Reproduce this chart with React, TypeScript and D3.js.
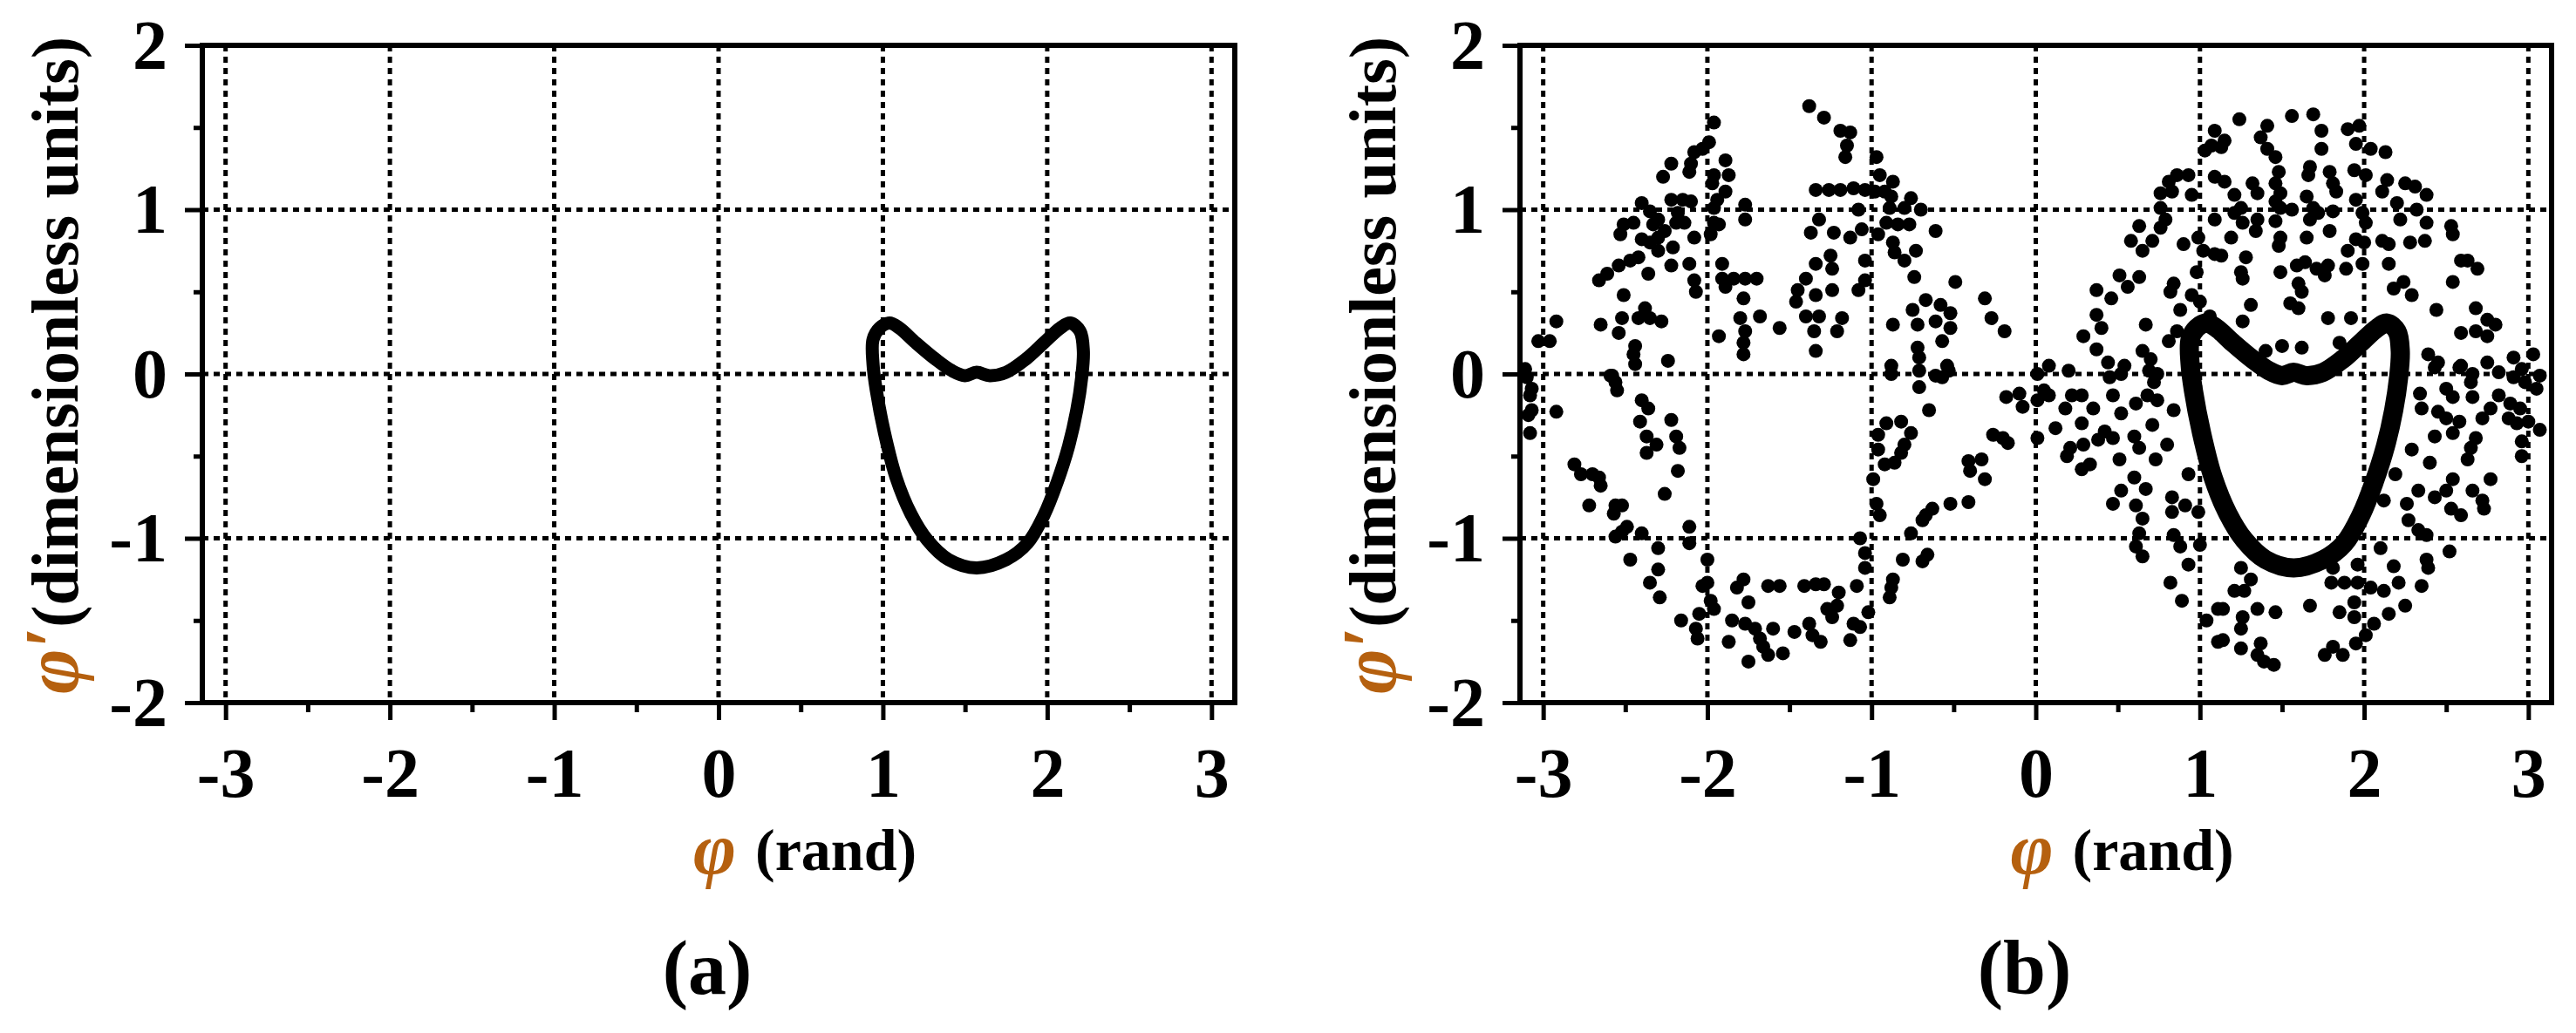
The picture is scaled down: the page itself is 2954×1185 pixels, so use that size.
import React, { useRef, useEffect } from 'react';
import * as d3 from 'd3';

const xTickValues = [-3, -2, -1, 0, 1, 2, 3];
const xMinorValues = [-2.5, -1.5, -0.5, 0.5, 1.5, 2.5];
const yTickValues = [-2, -1, 0, 1, 2];
const yMinorValues = [-1.5, -0.5, 0.5, 1.5];
const xGridValues = [-3, -2, -1, 0, 1, 2, 3];
const yGridValues = [-1, 0, 1];

// limit cycle, [phi, phi']
const cycle = [
  [0.94, 0.21], [0.98, 0.28], [1.04, 0.31], [1.10, 0.28], [1.20, 0.19], [1.32, 0.09],
  [1.42, 0.02], [1.50, -0.01], [1.57, 0.01], [1.65, -0.01], [1.75, 0.01], [1.87, 0.09],
  [1.98, 0.19], [2.08, 0.28], [2.14, 0.31], [2.20, 0.26], [2.22, 0.14], [2.21, -0.02],
  [2.18, -0.22], [2.13, -0.44], [2.06, -0.66], [1.98, -0.86], [1.88, -1.03], [1.75, -1.13],
  [1.57, -1.18], [1.40, -1.13], [1.27, -1.01], [1.17, -0.85], [1.08, -0.63], [1.01, -0.36],
  [0.96, -0.10], [0.94, 0.06],
];

// scattered points of panel (b), by region
const upperLeft = [
  [-1.38, 1.63], [-1.29, 1.56], [-1.19, 1.48], [-1.13, 1.47], [-1.15, 1.39], [-1.16, 1.32],
  [-1.96, 1.53], [-1.99, 1.41], [-2.03, 1.37], [-2.08, 1.35], [-2.10, 1.28], [-2.11, 1.23],
  [-2.22, 1.28], [-2.27, 1.20], [-1.89, 1.30], [-1.87, 1.21], [-1.96, 1.21], [-1.97, 1.16],
  [-1.89, 1.11], [-1.94, 1.06], [-1.96, 1.01], [-1.77, 1.03], [-1.77, 0.94], [-2.22, 1.06],
  [-2.15, 1.06], [-2.10, 1.05], [-2.18, 0.98], [-2.14, 0.92], [-2.19, 0.92], [-2.08, 0.83],
  [-2.40, 1.04], [-2.35, 0.99], [-2.30, 0.94], [-2.33, 0.91], [-2.51, 0.91], [-2.53, 0.85],
  [-2.45, 0.92], [-2.40, 0.82], [-2.35, 0.80], [-2.30, 0.75], [-2.21, 0.77], [-2.30, 0.83],
  [-2.26, 0.87], [-1.96, 0.92], [-1.93, 0.91], [-1.98, 0.85], [-2.42, 0.71], [-2.47, 0.69],
  [-2.54, 0.66], [-2.61, 0.61], [-2.66, 0.57], [-2.36, 0.61], [-2.22, 0.66], [-2.11, 0.67],
  [-2.08, 0.57], [-2.07, 0.50], [-1.91, 0.67], [-1.91, 0.58], [-1.89, 0.53], [-1.84, 0.58],
  [-1.77, 0.58], [-1.70, 0.58], [-1.78, 0.46], [-2.51, 0.48], [-2.38, 0.40], [-2.42, 0.34],
  [-2.35, 0.34], [-2.28, 0.32], [-2.52, 0.34], [-2.65, 0.30], [-2.54, 0.25], [-2.44, 0.17],
  [-2.45, 0.12], [-2.44, 0.06], [-2.24, 0.08], [-2.92, 0.32], [-3.03, 0.20], [-2.96, 0.20],
  [-1.80, 0.34], [-1.68, 0.35], [-1.56, 0.28], [-1.77, 0.26], [-1.78, 0.19], [-1.78, 0.12],
  [-1.93, 0.23], [-1.34, 1.12], [-1.26, 1.12], [-1.19, 1.12], [-1.11, 1.13], [-1.04, 1.12],
  [-1.08, 1.00], [-1.32, 0.94], [-1.37, 0.86], [-1.23, 0.86], [-1.13, 0.83], [-1.06, 0.88],
  [-1.25, 0.72], [-1.24, 0.64], [-1.34, 0.67], [-1.24, 0.51], [-1.40, 0.58], [-1.45, 0.51],
  [-1.46, 0.44], [-1.34, 0.48], [-1.40, 0.35], [-1.32, 0.35], [-1.35, 0.26], [-1.34, 0.14],
  [-1.18, 0.34], [-1.21, 0.26], [-1.04, 0.69], [-1.04, 0.57], [-1.08, 0.51], [-3.11, 0.03],
  [-2.59, -0.01],
];

const lowerLeft = [
  [-3.10, -0.02], [-3.07, -0.09], [-3.08, -0.13], [-3.07, -0.22], [-3.09, -0.25], [-3.08, -0.36],
  [-2.92, -0.23], [-2.58, -0.01], [-2.56, -0.05], [-2.55, -0.10], [-2.40, -0.16], [-2.36, -0.21],
  [-2.41, -0.29], [-2.37, -0.38], [-2.31, -0.43], [-2.37, -0.48], [-2.22, -0.28], [-2.19, -0.38],
  [-2.17, -0.45], [-2.18, -0.59], [-2.26, -0.73], [-2.81, -0.55], [-2.77, -0.61], [-2.70, -0.61],
  [-2.66, -0.63], [-2.65, -0.68], [-2.72, -0.80], [-2.56, -0.80], [-2.52, -0.80], [-2.57, -0.85],
  [-2.49, -0.93], [-2.52, -0.96], [-2.56, -0.99], [-2.40, -0.97], [-2.30, -1.06], [-2.47, -1.13],
  [-2.30, -1.19], [-2.35, -1.27], [-2.29, -1.36], [-2.11, -0.93], [-2.11, -1.03], [-2.00, -1.13],
  [-2.00, -1.27], [-2.03, -1.29], [-1.98, -1.38], [-1.96, -1.43], [-2.05, -1.46], [-2.16, -1.50],
  [-2.07, -1.55], [-2.06, -1.61], [-1.78, -1.25], [-1.82, -1.30], [-1.75, -1.39], [-1.85, -1.50],
  [-1.87, -1.63], [-1.77, -1.52], [-1.71, -1.55], [-1.68, -1.61], [-1.60, -1.55], [-1.66, -1.66],
  [-1.63, -1.71], [-1.54, -1.70], [-1.75, -1.75], [-1.63, -1.29], [-1.56, -1.29], [-1.41, -1.29],
  [-1.34, -1.28], [-1.29, -1.28], [-1.20, -1.33], [-1.21, -1.41], [-1.27, -1.43], [-1.24, -1.48],
  [-1.47, -1.57], [-1.38, -1.52], [-1.36, -1.59], [-1.31, -1.63], [-1.11, -1.52], [-1.13, -1.62],
  [-1.07, -1.00], [-1.04, -1.09], [-1.04, -1.18], [-1.09, -1.29], [-1.02, -1.45],
];

const upperMiddle = [
  [-0.97, 1.32], [-0.95, 1.21], [-0.87, 1.17], [-0.98, 1.11], [-0.92, 1.11], [-0.88, 1.08],
  [-0.89, 1.01], [-0.76, 1.07], [-0.70, 1.00], [-0.80, 1.01], [-0.96, 0.85], [-0.91, 0.92],
  [-0.84, 0.91], [-0.77, 0.91], [-0.61, 0.87], [-0.87, 0.80], [-0.86, 0.74], [-0.80, 0.69],
  [-0.73, 0.75], [-0.74, 0.59], [-0.49, 0.56], [-0.31, 0.46], [-0.27, 0.34], [-0.19, 0.26],
  [-0.87, 0.30], [-0.75, 0.39], [-0.72, 0.30], [-0.67, 0.45], [-0.58, 0.42], [-0.52, 0.37],
  [-0.61, 0.32], [-0.52, 0.28], [-0.57, 0.20], [-0.72, 0.16], [-0.71, 0.10], [-0.88, 0.05],
  [-0.54, 0.05], [-0.61, -0.01], [0.08, 0.05], [0.01, 0.00], [0.20, 0.02], [1.09, 1.48],
  [1.07, 1.39], [1.03, 1.36], [1.09, 1.20], [0.86, 1.21], [0.93, 1.21], [0.81, 1.17],
  [0.76, 1.10], [0.83, 1.11], [0.95, 1.09], [0.76, 1.01], [0.79, 0.94], [0.76, 0.89],
  [0.63, 0.90], [0.58, 0.81], [0.65, 0.75], [0.71, 0.81], [0.90, 0.79], [0.99, 0.83],
  [1.02, 0.75], [1.09, 0.73], [0.98, 0.62], [0.51, 0.60], [0.56, 0.53], [0.63, 0.59],
  [0.37, 0.51], [0.46, 0.46], [0.37, 0.36], [0.40, 0.28], [0.29, 0.23], [0.67, 0.30],
  [0.84, 0.55], [0.82, 0.50], [0.81, 0.20], [0.37, 0.15], [0.44, 0.07], [0.54, 0.05],
  [0.65, 0.14], [0.70, 0.09], [0.74, 0.00], [0.95, 0.48], [1.00, 0.44], [0.88, 0.39],
  [1.06, 0.35], [0.86, 0.26],
];

const lowerMiddle = [
  [-0.88, 0.00], [-0.71, 0.02], [-0.57, -0.02], [-0.53, 0.02], [-0.71, -0.08], [-0.65, -0.22],
  [-0.91, -0.30], [-0.82, -0.29], [-0.76, -0.36], [-0.96, -0.37], [-0.80, -0.43], [-0.82, -0.48],
  [-0.86, -0.54], [-0.92, -0.55], [-0.96, -0.46], [-0.99, -0.64], [-0.97, -0.79], [-0.95, -0.86],
  [-0.18, -0.14], [-0.10, -0.12], [-0.08, -0.20], [-0.26, -0.37], [-0.20, -0.39], [-0.17, -0.42],
  [-0.41, -0.53], [-0.40, -0.59], [-0.33, -0.52], [-0.31, -0.64], [-0.41, -0.78], [-0.52, -0.79],
  [-0.63, -0.82], [-0.67, -0.86], [-0.69, -0.89], [-0.76, -0.97], [-0.81, -1.13], [-0.66, -1.10],
  [-0.69, -1.14], [-0.87, -1.25], [-0.88, -1.30], [-0.89, -1.36], [-1.07, -1.54], [0.05, -0.10],
  [0.08, -0.13], [0.01, -0.16], [0.18, -0.21], [0.22, -0.13], [0.28, -0.13], [0.35, -0.21],
  [0.28, -0.30], [0.12, -0.33], [0.01, -0.39], [0.21, -0.45], [0.19, -0.50], [0.29, -0.43],
  [0.38, -0.40], [0.42, -0.35], [0.47, -0.39], [0.28, -0.58], [0.33, -0.55], [0.45, -0.02],
  [0.52, 0.00], [0.47, -0.13], [0.52, -0.24], [0.61, -0.18], [0.68, -0.13], [0.74, -0.16],
  [0.72, -0.05], [0.84, -0.22], [0.71, -0.31], [0.60, -0.38], [0.63, -0.45], [0.80, -0.43],
  [0.73, -0.52], [0.51, -0.52], [0.69, 0.02], [0.93, -0.61], [0.47, -0.79], [0.52, -0.71],
  [0.60, -0.63], [0.67, -0.70], [0.61, -0.80], [0.65, -0.88], [0.83, -0.75], [0.83, -0.84],
  [0.91, -0.80], [0.99, -0.84], [0.63, -0.97], [0.61, -1.05], [0.65, -1.11], [0.84, -0.98],
  [0.88, -1.05], [0.93, -1.16], [1.00, -1.04], [0.82, -1.27], [0.89, -1.38], [1.04, -1.50],
  [1.11, -1.63], [1.11, -1.43],
];

const upperRight = [
  [1.24, 1.55], [1.15, 1.42], [1.13, 1.38], [1.41, 1.51], [1.37, 1.44], [1.41, 1.37],
  [1.46, 1.32], [1.48, 1.23], [1.56, 1.57], [1.69, 1.58], [1.74, 1.48], [1.74, 1.37],
  [1.67, 1.26], [1.66, 1.21], [1.79, 1.23], [1.81, 1.16], [1.83, 1.11], [1.90, 1.49],
  [1.97, 1.51], [1.95, 1.40], [2.04, 1.37], [2.13, 1.35], [1.94, 1.24], [2.01, 1.21],
  [2.14, 1.18], [2.11, 1.11], [2.25, 1.16], [2.31, 1.14], [2.38, 1.09], [1.15, 1.17],
  [1.21, 1.09], [1.32, 1.16], [1.35, 1.10], [1.46, 1.16], [1.49, 1.10], [1.46, 1.05],
  [1.49, 1.01], [1.56, 1.00], [1.25, 1.01], [1.26, 0.92], [1.21, 0.98], [1.09, 0.94],
  [1.35, 0.94], [1.34, 0.87], [1.46, 0.93], [1.49, 0.83], [1.48, 0.78], [1.19, 0.83],
  [1.13, 0.72], [1.28, 0.71], [1.25, 0.62], [1.26, 0.58], [1.65, 1.08], [1.69, 1.01],
  [1.72, 0.98], [1.81, 0.99], [1.67, 0.94], [1.79, 0.87], [1.65, 0.83], [1.95, 1.06],
  [1.99, 0.98], [2.01, 0.92], [1.90, 0.75], [1.95, 0.82], [2.00, 0.80], [1.89, 0.64],
  [1.99, 0.67], [2.15, 0.67], [2.11, 0.81], [2.15, 0.79], [2.20, 1.04], [2.22, 0.94],
  [2.32, 1.00], [2.38, 0.92], [2.28, 0.80], [2.37, 0.81], [2.53, 0.90], [2.54, 0.85],
  [1.49, 0.62], [1.59, 0.66], [1.64, 0.68], [1.71, 0.64], [1.76, 0.60], [1.78, 0.66],
  [1.60, 0.55], [1.62, 0.50], [1.55, 0.43], [1.60, 0.40], [1.31, 0.42], [1.26, 0.32],
  [1.78, 0.34], [1.92, 0.34], [2.18, 0.52], [2.24, 0.56], [2.29, 0.48], [2.59, 0.69],
  [2.63, 0.69], [2.69, 0.64], [2.54, 0.56], [2.44, 0.39], [2.68, 0.40], [2.75, 0.33],
  [2.80, 0.30], [2.59, 0.25], [2.68, 0.26], [2.75, 0.23], [2.39, 0.12], [2.45, 0.07],
  [2.59, 0.05], [2.75, 0.07], [2.91, 0.10], [3.03, 0.12], [2.96, 0.03], [3.07, -0.01],
  [2.82, 0.01], [2.66, 0.00], [1.50, 0.17], [1.62, 0.16], [1.85, 0.19], [1.40, 0.14],
];

const lowerRight = [
  [2.43, 0.04], [2.58, 0.04], [2.91, -0.02], [2.98, -0.05], [3.05, -0.09], [2.50, -0.09],
  [2.54, -0.14], [2.66, -0.14], [2.65, -0.05], [2.82, -0.13], [2.89, -0.18], [2.95, -0.21],
  [2.34, -0.12], [2.35, -0.21], [2.45, -0.23], [2.50, -0.27], [2.58, -0.29], [2.72, -0.27],
  [2.77, -0.21], [2.88, -0.27], [2.93, -0.30], [3.00, -0.29], [3.07, -0.34], [2.43, -0.38],
  [2.54, -0.36], [2.68, -0.39], [2.65, -0.45], [2.63, -0.52], [2.96, -0.41], [2.96, -0.50],
  [2.29, -0.46], [2.40, -0.54], [2.19, -0.61], [2.33, -0.71], [2.26, -0.79], [2.12, -0.77],
  [2.43, -0.75], [2.50, -0.71], [2.54, -0.64], [2.53, -0.82], [2.59, -0.86], [2.66, -0.71],
  [2.72, -0.77], [2.73, -0.82], [2.77, -0.64], [2.27, -0.89], [2.33, -0.95], [2.38, -0.98],
  [2.52, -1.08], [2.10, -1.06], [2.18, -1.17], [2.38, -1.13], [2.39, -1.18], [2.21, -1.27],
  [2.35, -1.29], [2.25, -1.41], [1.96, -1.16], [1.96, -1.27], [2.04, -1.30], [2.12, -1.32],
  [1.81, -1.18], [1.80, -1.27], [1.88, -1.27], [1.94, -1.39], [1.94, -1.48], [1.85, -1.45],
  [1.67, -1.41], [2.06, -1.52], [2.15, -1.46], [2.01, -1.59], [1.95, -1.64], [1.81, -1.66],
  [1.76, -1.71], [1.87, -1.71], [1.25, -1.18], [1.31, -1.25], [1.21, -1.32], [1.27, -1.32],
  [1.14, -1.43], [1.35, -1.43], [1.46, -1.45], [1.26, -1.48], [1.25, -1.55], [1.14, -1.62],
  [1.25, -1.67], [1.37, -1.64], [1.35, -1.71], [1.39, -1.75], [1.45, -1.77],
];

const scatter = [...upperLeft, ...lowerLeft, ...upperMiddle, ...lowerMiddle, ...upperRight, ...lowerRight];

const W = 2954;
const H = 1185;
const TOP = 52;
const BOTTOM = 806;
const serif = "'Liberation Serif', 'Times New Roman', serif";
const phiColor = '#b5600f';

const panels = [
  { left: 232, right: 1416, tag: '(a)', dots: [], cycleWidth: 15 },
  { left: 1743, right: 2926, tag: '(b)', dots: scatter, cycleWidth: 22 },
];

function drawPanel(svg, p) {
  const x = d3.scaleLinear().domain([-Math.PI, Math.PI]).range([p.left, p.right]);
  const y = d3.scaleLinear().domain([-2, 2]).range([BOTTOM, TOP]);
  const g = svg.append('g');

  // dotted grid
  g.append('g')
    .selectAll('line')
    .data(xGridValues)
    .join('line')
    .attr('x1', (d) => x(d))
    .attr('x2', (d) => x(d))
    .attr('y1', TOP)
    .attr('y2', BOTTOM)
    .attr('stroke', '#000')
    .attr('stroke-width', 5)
    .attr('stroke-dasharray', '7 6');
  g.append('g')
    .selectAll('line')
    .data(yGridValues)
    .join('line')
    .attr('x1', p.left)
    .attr('x2', p.right)
    .attr('y1', (d) => y(d))
    .attr('y2', (d) => y(d))
    .attr('stroke', '#000')
    .attr('stroke-width', 5)
    .attr('stroke-dasharray', '7 6');

  g.append('g')
    .selectAll('circle')
    .data(p.dots)
    .join('circle')
    .attr('cx', (d) => x(d[0]))
    .attr('cy', (d) => y(d[1]))
    .attr('r', 8)
    .attr('fill', '#000');

  const line = d3
    .line()
    .x((d) => x(d[0]))
    .y((d) => y(d[1]))
    .curve(d3.curveCatmullRomClosed.alpha(0.5));
  g.append('path')
    .datum(cycle)
    .attr('d', line)
    .attr('fill', 'none')
    .attr('stroke', '#000')
    .attr('stroke-width', p.cycleWidth)
    .attr('stroke-linejoin', 'round');

  // axes
  const xAxis = g
    .append('g')
    .attr('transform', `translate(0,${BOTTOM})`)
    .call(d3.axisBottom(x).tickValues(xTickValues).tickSize(20).tickFormat((d) => String(d)));
  xAxis.select('.domain').remove();
  xAxis.selectAll('line').attr('stroke-width', 5);
  xAxis
    .selectAll('text')
    .attr('y', 108)
    .attr('dy', null)
    .attr('font-family', serif)
    .attr('font-size', 80)
    .attr('font-weight', 'bold')
    .attr('fill', '#000');
  const xMinor = g
    .append('g')
    .attr('transform', `translate(0,${BOTTOM})`)
    .call(d3.axisBottom(x).tickValues(xMinorValues).tickSize(11).tickFormat(() => ''));
  xMinor.select('.domain').remove();
  xMinor.selectAll('line').attr('stroke-width', 5);

  const yAxis = g
    .append('g')
    .attr('transform', `translate(${p.left},0)`)
    .call(d3.axisLeft(y).tickValues(yTickValues).tickSize(20).tickPadding(20).tickFormat((d) => String(d)));
  yAxis.select('.domain').remove();
  yAxis.selectAll('line').attr('stroke-width', 5);
  yAxis
    .selectAll('text')
    .attr('dy', '0.33em')
    .attr('font-family', serif)
    .attr('font-size', 80)
    .attr('font-weight', 'bold')
    .attr('fill', '#000');
  const yMinor = g
    .append('g')
    .attr('transform', `translate(${p.left},0)`)
    .call(d3.axisLeft(y).tickValues(yMinorValues).tickSize(10).tickFormat(() => ''));
  yMinor.select('.domain').remove();
  yMinor.selectAll('line').attr('stroke-width', 5);

  g.append('rect')
    .attr('x', p.left)
    .attr('y', TOP)
    .attr('width', p.right - p.left)
    .attr('height', BOTTOM - TOP)
    .attr('fill', 'none')
    .attr('stroke', '#000')
    .attr('stroke-width', 6);

  // y label
  const yl = g
    .append('text')
    .attr('transform', `translate(${p.left - 143},${(TOP + BOTTOM) / 2 - 10}) rotate(-90)`)
    .attr('text-anchor', 'middle')
    .attr('font-family', serif)
    .attr('font-weight', 'bold');
  yl.append('tspan').attr('font-style', 'italic').attr('font-size', 88).attr('fill', phiColor).text('φ′');
  yl.append('tspan').attr('font-size', 76).attr('fill', '#000').text('(dimensionless units)');

  // x label
  g.append('text')
    .attr('x', x(0) - 29)
    .attr('y', 1002)
    .attr('font-family', serif)
    .attr('font-weight', 'bold')
    .attr('font-style', 'italic')
    .attr('font-size', 84)
    .attr('fill', phiColor)
    .text('φ');
  g.append('text')
    .attr('x', x(0) + 42)
    .attr('y', 998)
    .attr('font-family', serif)
    .attr('font-weight', 'bold')
    .attr('font-size', 68)
    .attr('fill', '#000')
    .text('(rand)');

  g.append('text')
    .attr('x', x(0) - 13)
    .attr('y', 1140)
    .attr('text-anchor', 'middle')
    .attr('font-family', serif)
    .attr('font-weight', 'bold')
    .attr('font-size', 88)
    .attr('fill', '#000')
    .text(p.tag);
}

const App = () => {
  const svgRef = useRef(null);

  useEffect(() => {
    const svg = d3.select(svgRef.current);
    svg.selectAll('*').remove();
    panels.forEach((p) => drawPanel(svg, p));
  }, []);

  return (
    <svg
      ref={svgRef}
      width={W}
      height={H}
      style={{ position: 'absolute', left: 0, top: 0, background: '#fff', display: 'block' }}
    />
  );
};

export default App;
